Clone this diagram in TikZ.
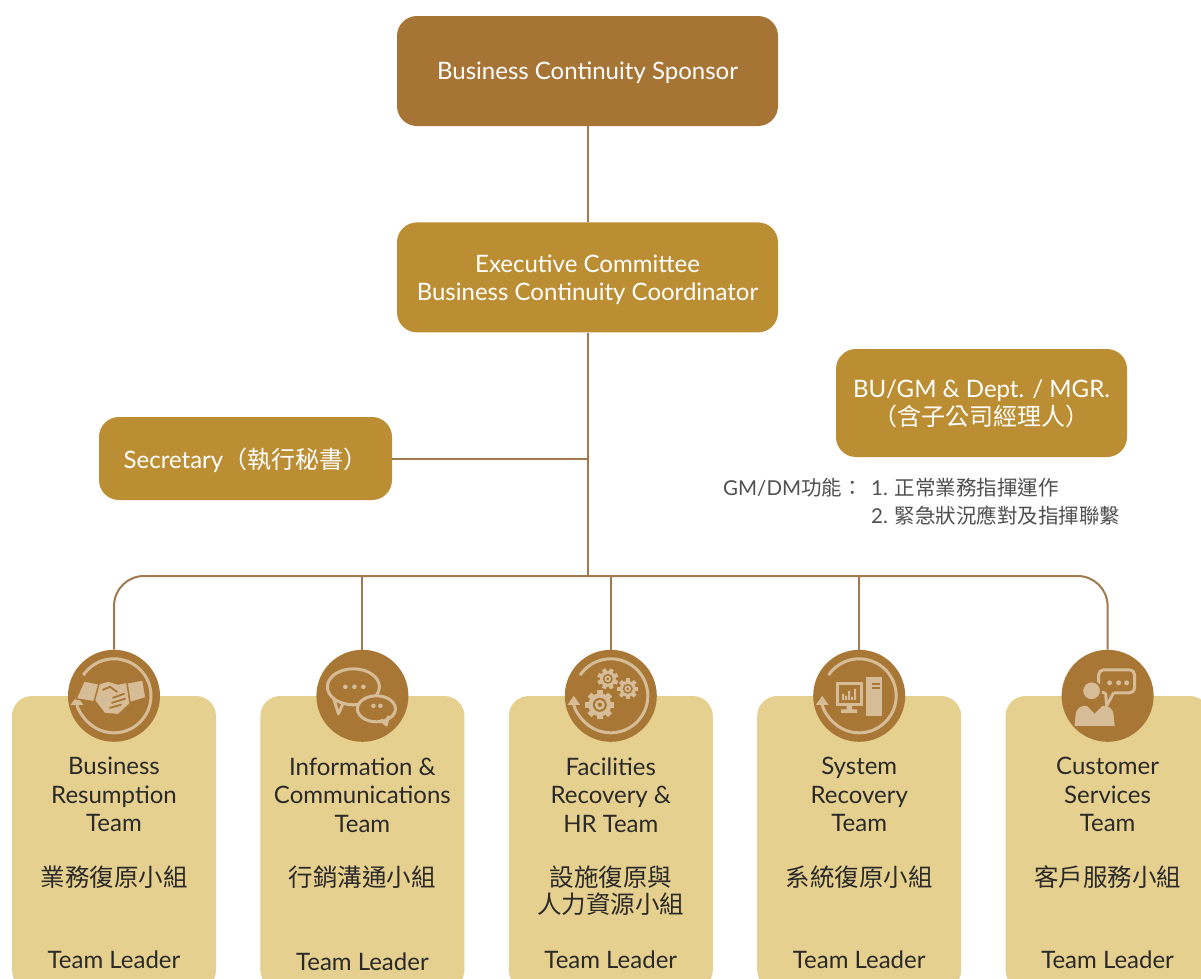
\documentclass[tikz,border=0pt]{standalone}
\usepackage{fontspec}
\setmainfont{Lato}
\newfontfamily\cjk{Noto Sans CJK TC}
\usetikzlibrary{positioning, arrows.meta}

\definecolor{sponsorbrown}{RGB}{166,117,53}
\definecolor{boxgold}{RGB}{187,142,52}
\definecolor{teamfill}{RGB}{229,208,144}
\definecolor{iconbrown}{RGB}{168,119,54}
\definecolor{icontan}{RGB}{214,188,151}
\definecolor{linebrown}{RGB}{160,122,78}
\definecolor{darktext}{RGB}{43,42,40}
\definecolor{notegray}{RGB}{80,80,80}

\begin{document}
\begin{tikzpicture}
	[x=1pt, y=-1pt]
	
	\tikzstyle{sponsorbox} = [rectangle, rounded corners=20pt, minimum width=381pt, minimum height=110pt, fill=sponsorbrown, text=white, align=center, text depth=0pt, font=\fontsize{24}{28}\selectfont]
	
	\tikzstyle{goldbox} = [sponsorbox, fill=boxgold]
	
	\tikzstyle{teambox} = [rectangle, rounded corners=20pt, minimum width=204pt, minimum height=294pt, fill=teamfill]
	
	\tikzstyle{teamtext} = [align=center, text=darktext, font=\fontsize{24}{28.5}\selectfont]
	
	\tikzstyle{teamcjk} = [align=center, text=darktext, font=\cjk\fontsize{24.5}{27}\selectfont]
	
	\tikzstyle{notetext} = [inner sep=0pt, text=notegray, font=\fontsize{20.5}{28}\selectfont]
	
	\tikzstyle{iconcircle} = [circle, minimum size=92pt, inner sep=0pt, fill=iconbrown]
	
	\tikzstyle{link} = [draw=linebrown, line width=2pt]
	
	\tikzstyle{ring} = [draw=icontan, line width=3pt, -{Triangle[width=12pt,length=9pt]}]
	
	\tikzstyle{tanline} = [draw=icontan, line width=3pt]
	
	\useasboundingbox (0,0) rectangle (1201,978);
	\fill [white] (0,0) rectangle (1201,978);
	\clip (0,0) rectangle (1201,978);
	
	\node (sponsor) [sponsorbox] at (587.5,71) {Business Continuity Sponsor};
	\node (exec) [goldbox, below=96pt of sponsor] {Executive Committee\\Business Continuity Coordinator};
	\node (sec) [goldbox, minimum width=293pt, minimum height=83pt] at (245.5,458.5) {Secretary{\cjk （執行秘書）}};
	\node (bugm) [goldbox, minimum width=291pt, minimum height=108pt] at (981.5,403) {BU/GM \& Dept. / MGR.\\{\cjk （含子公司經理人）}};
	\node (gmnote) [notetext, anchor=north west] at (723,476) {\begin{tabular}{@{}p{148pt}@{}l@{}}
		GM/DM{\cjk 功能：} & 1. {\cjk 正常業務指揮運作}\\
		& 2. {\cjk 緊急狀況應對及指揮聯繫}
	\end{tabular}};
	
	\node (t1) [teambox] at (114,843) {};
	\node (t2) [teambox, right=44pt of t1] {};
	\node (t3) [teambox, right=44pt of t2] {};
	\node (t4) [teambox, right=44pt of t3] {};
	\node (t5) [teambox, right=44pt of t4] {};
	
	\node (ic1) [iconcircle] at (t1.north) {};
	\node (ic2) [iconcircle] at (t2.north) {};
	\node (ic3) [iconcircle] at (t3.north) {};
	\node (ic4) [iconcircle] at (t4.north) {};
	\node (ic5) [iconcircle] at (t5.north) {};
	
	\coordinate (bus) at (587.5,576);
	\draw [link] (sponsor) -- (exec);
	\draw [link] (exec) -- (bus);
	\draw [link] (sec) -- (sec -| exec);
	\draw [link, rounded corners=30pt] (ic1) |- (bus) -| (ic5);
	\draw [link] (ic2) -- (ic2 |- bus);
	\draw [link] (ic3) -- (ic3 |- bus);
	\draw [link] (ic4) -- (ic4 |- bus);
	
	\draw (t1.north) ++(0,99) node [teamtext] (t1en) {Business\\Resumption\\Team};
	\draw (t1.north) ++(0,181) node [teamcjk] (t1zh) {業務復原小組};
	\draw (t1.north) ++(0,264) node [teamtext] (t1lead) {Team Leader};
	
	\draw (t2.north) ++(0,99) node [teamtext] (t2en) {Information \&\\Communications\\Team};
	\draw (t2.north) ++(0,181) node [teamcjk] (t2zh) {行銷溝通小組};
	\draw (t2.north) ++(0,266) node [teamtext] (t2lead) {Team Leader};
	
	\draw (t3.north) ++(0,99) node [teamtext] (t3en) {Facilities\\Recovery \&\\HR Team};
	\draw (t3.north) ++(0,195) node [teamcjk] (t3zh) {設施復原與\\人力資源小組};
	\draw (t3.north) ++(0,264) node [teamtext] (t3lead) {Team Leader};
	
	\draw (t4.north) ++(0,99) node [teamtext] (t4en) {System\\Recovery\\Team};
	\draw (t4.north) ++(0,181) node [teamcjk] (t4zh) {系統復原小組};
	\draw (t4.north) ++(0,264) node [teamtext] (t4lead) {Team Leader};
	
	\draw (t5.north) ++(0,99) node [teamtext] (t5en) {Customer\\Services\\Team};
	\draw (t5.north) ++(0,181) node [teamcjk] (t5zh) {客戶服務小組};
	\draw (t5.north) ++(0,264) node [teamtext] (t5lead) {Team Leader};
	
	% handshake
	\begin{scope}[shift={(ic1.center)}]
		\draw [ring] (146:37pt) arc [start angle=146, end angle=-180, radius=37pt];
		\fill [icontan] (-16,-11) -- (-6,-14) -- (4,-11) -- (14,-13) -- (18,5) -- (4,18) -- (-9,17) -- (-19,4) -- cycle;
		\filldraw [icontan, draw=iconbrown, line width=1.5pt] (-30,-15) -- (-15,-12) -- (-20,6) -- (-38,3) -- cycle;
		\filldraw [icontan, draw=iconbrown, line width=1.5pt] (13,-13) -- (29,-16) -- (32,2) -- (16,7) -- cycle;
		\draw [iconbrown, line width=1.8pt, line cap=round] (-1,2) -- (10,-2) (-2,7) -- (11,3) (-4,12) -- (7,9) (-11,-6) -- (-4,-9) -- (3,-4);
	\end{scope}
	
	% speech bubbles
	\begin{scope}[shift={(ic2.center)}]
		\filldraw [iconbrown, draw=icontan, line width=3pt] (-9,-9) ellipse [x radius=26pt, y radius=18pt];
		\draw [tanline, line join=round] (-29,2) -- (-24,18) -- (-19,7);
		\fill [icontan] (-17,-9) circle (2.3pt) (-8,-9) circle (2.3pt) (1,-9) circle (2.3pt);
		\filldraw [iconbrown, draw=icontan, line width=3pt] (14,13) ellipse [x radius=19pt, y radius=13pt];
		\draw [tanline, line join=round] (26,20) -- (24,29) -- (18,24);
		\fill [icontan] (11,10) circle (2.3pt) (18,10) circle (2.3pt);
	\end{scope}
	
	% gears
	\begin{scope}[shift={(ic3.center)}]
		\draw [ring] (146:37pt) arc [start angle=146, end angle=-180, radius=37pt];
		\begin{scope}[shift={(-11,9)}]
			\fill [icontan] (0,0) circle (11.5pt);
			\foreach \a in {0,45,...,315}
				\fill [icontan, rotate=\a] (-2.8pt,9pt) rectangle (2.8pt,14.5pt);
			\fill [iconbrown] (0,0) circle (7pt);
			\fill [icontan] (0,0) circle (5pt);
			\fill [iconbrown] (0,0) circle (2.2pt);
		\end{scope}
		\begin{scope}[shift={(-3,-17)}]
			\fill [icontan] (0,0) circle (8pt);
			\foreach \a in {22.5,67.5,...,337.5}
				\fill [icontan, rotate=\a] (-2pt,6pt) rectangle (2pt,10.5pt);
			\fill [iconbrown] (0,0) circle (5pt);
			\fill [icontan] (0,0) circle (3.3pt);
			\fill [iconbrown] (0,0) circle (1.5pt);
		\end{scope}
		\begin{scope}[shift={(17,-7)}]
			\fill [icontan] (0,0) circle (8pt);
			\foreach \a in {0,45,...,315}
				\fill [icontan, rotate=\a] (-2pt,6pt) rectangle (2pt,10.5pt);
			\fill [iconbrown] (0,0) circle (5pt);
			\fill [icontan] (0,0) circle (3.3pt);
			\fill [iconbrown] (0,0) circle (1.5pt);
		\end{scope}
	\end{scope}
	
	% computer
	\begin{scope}[shift={(ic4.center)}]
		\draw [ring] (146:37pt) arc [start angle=146, end angle=-180, radius=37pt];
		\draw [tanline] (-22,-12.5) rectangle (2,8.5);
		\fill [icontan] (-17,4) rectangle (-15,-2) (-14,4) rectangle (-12,0) (-11,4) rectangle (-9,-5) (-8,4) rectangle (-6,1) (-5,4) rectangle (-3,-7);
		\fill [icontan] (-12.5,10) rectangle (-7,14) (-18,13.5) rectangle (-2,17);
		\fill [icontan] (6.5,-19) rectangle (23,20);
		\draw [iconbrown, line width=1.5pt] (13,-12) -- (21,-12) (13,-8) -- (21,-8);
	\end{scope}
	
	% customer
	\begin{scope}[shift={(ic5.center)}]
		\draw [tanline, rounded corners=5pt] (-2,-3) -- (-9,-3) -- (-9,-26) -- (27,-26) -- (27,-3) -- (6,-3);
		\draw [tanline, line join=round] (-2,-3) -- (-1,10) -- (6,-3);
		\fill [icontan] (2,-13) circle (2.5pt) (11,-13) circle (2.5pt) (19,-13) circle (2.5pt);
		\filldraw [icontan, draw=iconbrown, line width=2pt] (-16,-5) circle (9.5pt);
		\fill [icontan] (-33,30) -- (-32,19) .. controls (-31,12) and (-27,10) .. (-21,10) -- (-13,18) -- (-5,10) .. controls (1,10) and (5,12) .. (6,19) -- (7,30) -- cycle;
	\end{scope}
	
\end{tikzpicture}
\end{document}
